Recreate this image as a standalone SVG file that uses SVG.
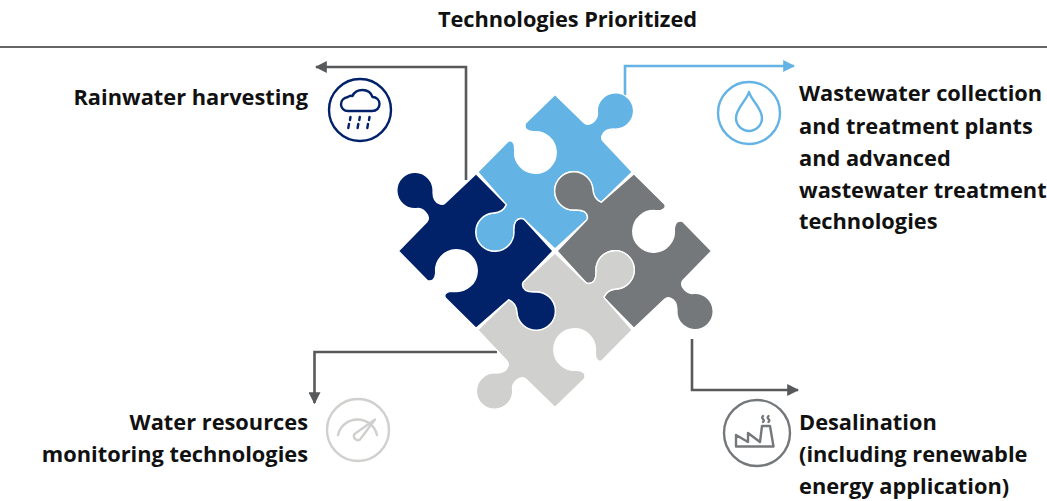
<svg xmlns="http://www.w3.org/2000/svg" xmlns:xlink="http://www.w3.org/1999/xlink" width="1047" height="501" viewBox="0 0 1047 501">
<style>
text{font-family:"Open Sans","Noto Sans","Liberation Sans",sans-serif;font-weight:700;font-size:21.8px;fill:#111}
.e{text-anchor:end}
.c{fill:none;stroke:#58595B;stroke-width:2.6}
.i{fill:none;stroke-width:2.4;stroke-linecap:round;stroke-linejoin:round}
.p{stroke:#fff;stroke-width:4;stroke-linejoin:round}
</style>
<defs>
<path id="piece" d="M0 -466L87 -381Q100 -371 115 -385Q129 -398 126 -413A54 54 0 1 1 175 -363Q147 -363 140 -343Q137 -333 143 -327L230 -235L138 -145Q115 -155 113 -182A57 57 0 1 0 58 -122Q78 -123 88 -117Q101 -107 95 -93L0 -6L-93 -95Q-107 -101 -117 -88Q-123 -78 -122 -58A57 57 0 1 1 -182 -113Q-155 -115 -145 -138L-230 -235L-140 -326Q-127 -333 -121 -315L-120 -300A62 62 0 1 0 -65 -355Q-95 -358 -88 -380Z"/>
<marker id="ag" viewBox="0 0 10 10" refX="9" refY="5" markerWidth="12" markerHeight="12" markerUnits="userSpaceOnUse" orient="auto"><path d="M0 0L10 5L0 10Z" fill="#58595B"/></marker>
<marker id="ab" viewBox="0 0 10 10" refX="9" refY="5" markerWidth="12" markerHeight="12" markerUnits="userSpaceOnUse" orient="auto"><path d="M0 0L10 5L0 10Z" fill="#63B3E4"/></marker>
</defs>
<g id="header">
<text x="567.5" y="27" text-anchor="middle" textLength="259">Technologies Prioritized</text>
<line x1="0" y1="47" x2="1047" y2="47" stroke="#333" stroke-width="1.3"/>
</g>
<g id="connectors">
<path class="c" d="M466 180V67H316" marker-end="url(#ag)"/>
<path class="c" style="stroke:#63B3E4" d="M625 95V66H794" marker-end="url(#ab)"/>
<path class="c" d="M692 339V390H798" marker-end="url(#ag)"/>
<path class="c" d="M497 352H314.500V403" marker-end="url(#ag)"/>
</g>
<g id="puzzle-lightblue" transform="translate(555 251) scale(.336)"><use href="#piece" class="p" fill="#63B3E4"/></g>
<g id="puzzle-grey" transform="translate(555 251) scale(.336) rotate(90)"><use href="#piece" class="p" fill="#75787B"/></g>
<g id="puzzle-lightgrey" transform="translate(555 251) scale(.336) rotate(180)"><use href="#piece" class="p" fill="#D0D0CE"/></g>
<g id="puzzle-navy" transform="translate(555 251) scale(.336) rotate(270)"><use href="#piece" class="p" fill="#012169"/></g>
<g id="rainwater">
<text class="e" x="308" y="105">Rainwater harvesting</text>
<g class="i" stroke="#012169">
<circle cx="360" cy="110" r="31"/>
<path d="M348 111H372C377 111 379.500 107.500 379.500 104C379.500 100 376.500 97 372.500 97C371 92.500 367 90 362.500 90C358 90 354 92.500 352.500 96C351 95.500 349 96 348 97C344 97.500 341 100.500 341 104.500C341 108 344 111 348 111Z"/>
<path d="M350.500 117L350 120M349 124L348.300 128M359.800 117L359.300 120M358.300 124L357.600 128M369.500 117L369 120M368 124L367.300 128"/>
</g>
</g>
<g id="wastewater">
<text x="799" y="101">Wastewater collection</text>
<text x="799" y="134">and treatment plants</text>
<text x="799" y="166">and advanced</text>
<text x="799" y="198">wastewater treatment</text>
<text x="799" y="229">technologies</text>
<g class="i" stroke="#63B3E4">
<circle cx="749" cy="113" r="31"/>
<path d="M749 92C747 100 736 108 736 118A13 13 0 0 0 762 118C762 108 751 100 749 92Z"/>
</g>
</g>
<g id="monitoring">
<text class="e" x="308" y="430">Water resources</text>
<text class="e" x="308" y="462">monitoring technologies</text>
<g class="i" stroke="#D0D0CE">
<circle cx="358" cy="430" r="31"/>
<path d="M338 435A20 20 0 0 1 377 435"/>
<path d="M354.500 434L375 419.500L360 439.500A4 4 0 0 1 354.500 434Z" fill="#fff"/>
</g>
</g>
<g id="desalination">
<text x="799" y="430">Desalination</text>
<text x="799" y="462">(including renewable</text>
<text x="799" y="494">energy application)</text>
<g class="i" stroke="#75787B">
<circle cx="757" cy="433" r="33"/>
<path d="M736 446.500V435L748 442V433L760 442L762 426H770L773.500 446.500Z"/>
<path d="M763 416Q761.500 417.500 763 419Q764.500 420.500 763 422M768.500 416Q767 417.500 768.500 419Q770 420.500 768.500 422"/>
</g>
</g>
</svg>
